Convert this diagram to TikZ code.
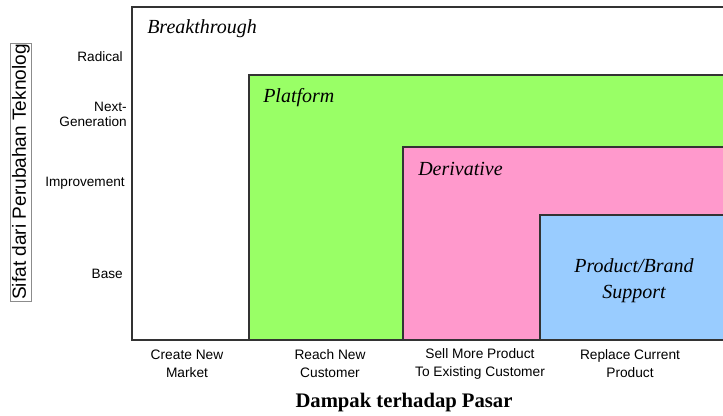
\documentclass[tikz,border=0pt]{standalone}
\usepackage{fontspec}
\setmainfont{Liberation Serif}
\setsansfont{Liberation Sans}
\usetikzlibrary{positioning}
\definecolor{platgreen}{HTML}{99FF66}
\definecolor{derivpink}{HTML}{FF99CC}
\definecolor{supblue}{HTML}{99CCFF}
\tikzset{
  zonebox/.style={draw=black!80,line width=1.1pt},
  zonelabel/.style={font=\itshape\fontsize{15}{19.5}\selectfont,anchor=west,inner sep=0pt},
  levellabel/.style={font=\sffamily\fontsize{10.2}{11.2}\selectfont,align=right,anchor=east,inner sep=0pt},
  marketlabel/.style={font=\sffamily\fontsize{10.3}{13.5}\selectfont,align=center,inner sep=0pt}
}

\begin{document}
\begin{tikzpicture}[x=0.75pt,y=-0.75pt]
  \useasboundingbox (0,0) rectangle (723,416);
  % nested zones, cut off at the right
  \begin{scope}
    \clip (0,0) rectangle (723,416);
    \draw[zonebox,line width=.8pt,fill=white] (132,7) rectangle (760,340);
    \draw[zonebox,fill=platgreen] (249,75) rectangle (760,340);
    \draw[zonebox,fill=derivpink] (403,147) rectangle (760,340);
    \draw[zonebox,fill=supblue] (540,215) rectangle (760,340);
    \draw[black!80,line width=1.1pt] (132,340) -- (760,340);
  \end{scope}
  \node[zonelabel] (brk) at (147,29) {Breakthrough};
  \node[zonelabel] (plat) at (263,98) {Platform};
  \node[zonelabel] (deriv) at (418,169) {Derivative};
  \node[zonelabel,anchor=center,align=center] (supp) at (634,281) {Product/Brand\\Support};
  % vertical axis
  \node[draw=black!45,line width=.6pt,rotate=90,inner sep=1pt,
    font=\sffamily\fontsize{14.3}{16}\selectfont] (yaxis) at (21,172) {Sifat dari Perubahan Teknolog};
  \node[levellabel] (radical) at (123,57) {Radical};
  \node[levellabel] (nextgen) at (127,114) {Next-\\Generation};
  \node[levellabel] (improve) at (125,183) {Improvement};
  \node[levellabel] (base) at (123,274) {Base};
  % horizontal axis
  \node[marketlabel] (newmkt) at (187,364) {Create New\\Market};
  \node[marketlabel] (newcust) at (330,364) {Reach New\\Customer};
  \node[marketlabel] (sellmore) at (480,364) {Sell More Product\\To Existing Customer};
  \node[marketlabel] (replace) at (630,364) {Replace Current\\Product};
  \node[font=\bfseries\fontsize{15.5}{17}\selectfont] (xaxis) at (404,403) {Dampak terhadap Pasar};
\end{tikzpicture}
\end{document}
